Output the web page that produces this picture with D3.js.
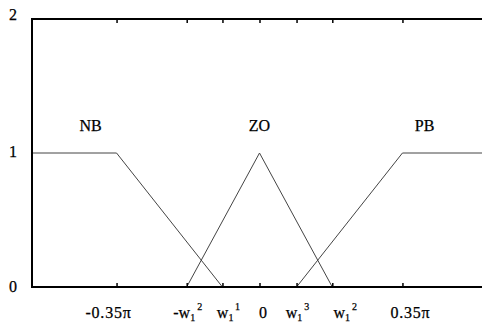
<!DOCTYPE html>
<html>
<head>
<meta charset="utf-8">
<script src="https://cdn.jsdelivr.net/npm/d3@7"></script>
<style>
  html, body { margin: 0; padding: 0; background: #fff; }
  svg { display: block; }
  text { font-family: "Liberation Serif", "Times New Roman", serif; fill: #000; stroke: #000; stroke-width: 0.25px; }
</style>
</head>
<body>
<svg id="chart" width="482" height="322"></svg>
<script>
// ---- data ----
const xDomain = [-1.75, 1.75];
const yDomain = [0, 2];
const yTicks = [0, 1, 2];
// x tick values (radians): -0.35π, -w1^2, w1^1, 0, w1^3, w1^2, 0.35π
const xTickValues = [-1.0996, -0.56, -0.285, 0, 0.285, 0.56, 1.0996];
const xTickLabels = [
  {pre: "-0.35π"},
  {pre: "-w", sub: "1", sup: "2"},
  {pre: "w", sub: "1", sup: "1"},
  {pre: "0"},
  {pre: "w", sub: "1", sup: "3"},
  {pre: "w", sub: "1", sup: "2"},
  {pre: "0.35π"}
];
const setNames = ["NB", "ZO", "PB"];
const nbX = [-1.75, -1.0996, -0.285];
const nbY = [1, 1, 0];
const zoX = [-0.56, 0, 0.56];
const zoY = [0, 1, 0];
const pbX = [0.285, 1.0996, 1.75];
const pbY = [0, 1, 1];
const setLabelX = [-1.3, 0, 1.27];
const setLabelY = 1.2;

// ---- layout ----
const L = 32, R = 487, T = 19, B = 287;
const labelNudge = [-8, 1, 6, 4, 1, 13, 8];
const yLabelDy = [4.5, 4, 1];

const svg = d3.select("#chart");
const x = d3.scaleLinear().domain(xDomain).range([L, R]);
const y = d3.scaleLinear().domain(yDomain).range([B, T]);

// membership functions
const line = d3.line().x(d => x(d[0])).y(d => y(d[1]));
const series = [[nbX, nbY], [zoX, zoY], [pbX, pbY]];
series.forEach(([xs, ys]) => {
  svg.append("path")
    .datum(xs.map((v, i) => [v, ys[i]]))
    .attr("d", line)
    .attr("fill", "none")
    .attr("stroke", "#444")
    .attr("stroke-width", 1);
});

// bottom ticks (inward)
const gB = svg.append("g").attr("transform", `translate(0,${B})`)
  .call(d3.axisBottom(x).tickValues(xTickValues).tickSizeInner(-4).tickSizeOuter(0).tickFormat(""));
gB.select(".domain").remove();
gB.selectAll(".tick line").attr("stroke", "#000").attr("stroke-width", 1.5);

// top ticks (inward)
const gT = svg.append("g").attr("transform", `translate(0,${T})`)
  .call(d3.axisTop(x).tickValues(xTickValues).tickSizeInner(-4).tickSizeOuter(0).tickFormat(""));
gT.select(".domain").remove();
gT.selectAll(".tick line").attr("stroke", "#000").attr("stroke-width", 1.5);

// frame
svg.append("path")
  .attr("d", `M${x(xDomain[1])},${y(yDomain[1])}H${x(xDomain[0])}V${y(yDomain[0])}H${x(xDomain[1])}`)
  .attr("fill", "none").attr("stroke", "#000").attr("stroke-width", 2);

// y tick labels
svg.selectAll(".ylab").data(yTicks).enter().append("text")
  .attr("class", "ylab")
  .attr("x", 13).attr("y", (d, i) => y(d) + yLabelDy[i])
  .attr("text-anchor", "middle")
  .attr("font-size", 16)
  .text(d => d);

// x tick labels
xTickLabels.forEach((lab, i) => {
  const t = svg.append("text")
    .attr("x", x(xTickValues[i]) + labelNudge[i])
    .attr("y", 318)
    .attr("text-anchor", "middle")
    .attr("font-size", 16)
    .attr("letter-spacing", lab.sub ? 0 : 0.8);
  t.append("tspan").text(lab.pre);
  if (lab.sub) {
    t.append("tspan").attr("font-size", 10).attr("dy", 3).text(lab.sub);
    t.append("tspan").attr("font-size", 10).attr("dx", 2).attr("dy", -11).text(lab.sup);
  }
});

// set labels
setNames.forEach((n, i) => {
  svg.append("text")
    .attr("x", x(setLabelX[i]))
    .attr("y", y(setLabelY) + 5)
    .attr("text-anchor", "middle")
    .attr("font-size", 16)
    .text(n);
});
</script>
</body>
</html>
